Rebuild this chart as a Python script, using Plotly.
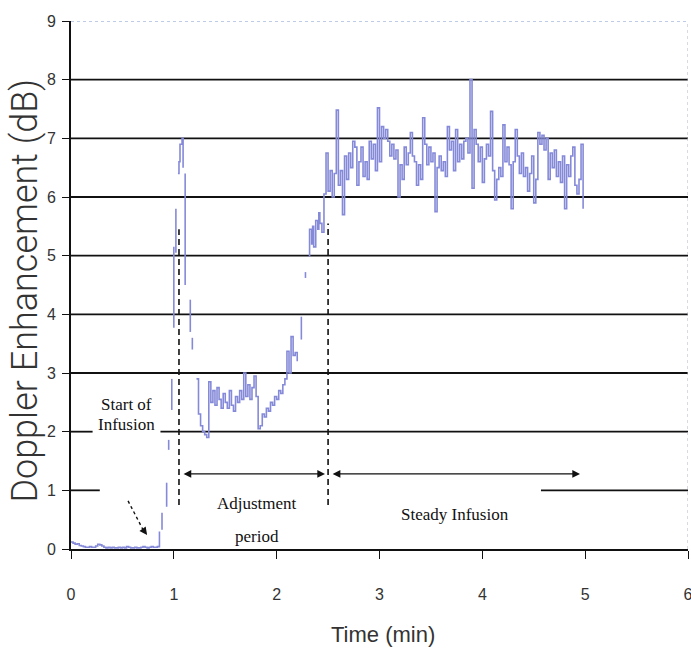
import numpy as np
import plotly.graph_objects as go

# ---------------- data ----------------
DT = 0.02  # sampling step of the trace (min)

baseline_start = 0.00
baseline_db = [0.12, 0.10, 0.08, 0.09, 0.06, 0.05, 0.04, 0.03, 0.03, 0.04,
               0.03, 0.03, 0.05, 0.08, 0.07, 0.05, 0.03, 0.02, 0.03, 0.02,
               0.03, 0.02, 0.02, 0.03, 0.02, 0.03, 0.02, 0.04, 0.03, 0.02,
               0.02, 0.03, 0.02, 0.02, 0.03, 0.04, 0.03, 0.02, 0.03, 0.04,
               0.03, 0.03, 0.04]

# start of infusion: fast wash-in, drawn as separate short pieces
rise1_t = [0.86, 0.86, None, 0.885, 0.885, None, 0.93, 0.93, None, 0.95, 0.95, None,
           0.98, 0.98, None, 1.00, 1.00, None, 1.02, 1.02, None,
           1.04, 1.05, 1.06, 1.08, 1.09, None, 1.11, 1.11, None, 1.16, 1.16, None, 1.18, 1.18]
rise1_db = [0.04, 0.30, None, 0.33, 0.62, None, 0.72, 1.13, None, 1.69, 1.86, None,
            2.37, 2.90, None, 3.77, 5.15, None, 5.05, 5.80, None,
            6.40, 6.60, 6.90, 7.00, 6.50, None, 6.40, 4.50, None, 4.25, 3.70, None, 3.60, 3.40]

adjust_start = 1.22
adjust_db = [2.90, 2.30, 2.10, 2.00, 1.95, 1.90, 2.85, 2.50, 2.70, 2.45,
             2.75, 2.55, 2.40, 2.65, 2.50, 2.40, 2.70, 2.45, 2.35, 2.60,
             2.50, 2.70, 2.55, 3.00, 2.60, 2.80, 2.55, 2.75, 2.95, 2.60,
             2.05, 2.10, 2.30, 2.25, 2.40, 2.35, 2.50, 2.45, 2.60, 2.55,
             2.70, 2.65, 2.80, 2.90, 3.37, 3.00, 3.62, 3.30, 3.35, 3.20]

rise2_t = [2.24, 2.24, None, 2.28, 2.28, None,
           2.32, 2.32, 2.34, 2.35, 2.36, 2.38, 2.40, 2.41, 2.42, 2.44]
rise2_db = [3.57, 3.96, None, 4.62, 4.72, None,
            4.98, 5.45, 5.20, 5.50, 5.15, 5.60, 5.45, 5.73, 5.55, 5.40]

steady_start = 2.46
steady_db = [6.05, 6.75, 6.10, 6.45, 6.00, 6.40, 7.48, 6.20, 6.45, 5.70,
             6.70, 6.30, 6.75, 6.50, 6.95, 6.85, 6.20, 6.60, 6.85, 6.35,
             6.60, 6.30, 6.95, 6.65, 6.90, 6.45, 7.52, 6.60, 7.20, 7.00,
             7.15, 6.95, 6.70, 6.90, 6.65, 6.80, 6.00, 6.55, 6.30, 6.85,
             6.55, 6.75, 7.10, 6.70, 6.60, 6.20, 6.55, 6.30, 7.35, 6.90,
             6.55, 6.85, 6.60, 6.75, 5.75, 6.50, 6.70, 6.45, 6.60, 6.35,
             7.20, 6.80, 6.95, 6.45, 7.15, 6.60, 6.90, 6.65, 6.95, 7.00,
             6.75, 8.00, 6.15, 7.15, 6.90, 6.60, 6.85, 6.25, 6.65, 6.90,
             6.70, 7.46, 6.45, 5.95, 6.30, 6.50, 6.35, 7.23, 6.60, 6.85,
             6.55, 5.80, 6.60, 7.15, 6.70, 6.40, 6.75, 6.35, 6.50, 6.10,
             6.40, 6.70, 5.90, 6.30, 7.10, 6.90, 7.05, 6.80, 7.00, 6.30,
             6.75, 6.50, 6.80, 6.35, 6.60, 6.25, 6.70, 5.80, 6.55, 6.35,
             6.70, 6.85, 6.20, 6.05, 6.30, 6.90, 5.80]

x_ticks = [0, 1, 2, 3, 4, 5, 6]
y_ticks = [0, 1, 2, 3, 4, 5, 6, 7, 8, 9]
grid_levels = [1, 2, 3, 4, 5, 6, 7, 8]

phase_marks = [1.05, 2.50]          # dashed lines: start / end of adjustment
adjust_arrow = (1.08, 2.47)
steady_arrow = (2.53, 4.95)
arrow_level = 1.28


def sampled(start, values):
    return list(np.round(start + DT * np.arange(len(values)), 3))


time_min = (sampled(baseline_start, baseline_db) + rise1_t + [None]
            + sampled(adjust_start, adjust_db) + [None]
            + rise2_t + sampled(steady_start, steady_db))
enh_db = baseline_db + rise1_db + [None] + adjust_db + [None] + rise2_db + steady_db

# ---------------- figure ----------------
fig = go.Figure()
fig.add_trace(go.Scatter(
    x=time_min, y=enh_db, mode="lines", line=dict(color="#858ad8", width=1.6, shape="hv"),
    connectgaps=False, showlegend=False, hoverinfo="skip"))

shapes = []
gaps = {1: (0.28, 4.57), 2: (0.21, 0.87)}
for lv in grid_levels:
    pieces = [(0, 6)] if lv not in gaps else [(0, gaps[lv][0]), (gaps[lv][1], 6)]
    for a, b in pieces:
        shapes.append(dict(type="line", xref="x", yref="y", x0=a, x1=b, y0=lv, y1=lv,
                           line=dict(color="#111111", width=1.8), layer="between"))
# top (dotted) and right borders
shapes.append(dict(type="line", xref="x", yref="y", x0=0, x1=6, y0=9, y1=9,
                   line=dict(color="#7f9ad0", width=1.2, dash="dot"), layer="between"))
shapes.append(dict(type="line", xref="x", yref="y", x0=6, x1=6, y0=0, y1=9,
                   line=dict(color="#b0b4c0", width=1, dash="dot"), layer="between"))
for xm, top in zip(phase_marks, [5.45, 5.55]):
    shapes.append(dict(type="line", xref="x", yref="y", x0=xm, x1=xm, y0=0.75, y1=top,
                       line=dict(color="#111111", width=1.6, dash="6px,4px"), layer="above"))
# dashed pointer from "Start of Infusion"
shapes.append(dict(type="line", xref="x", yref="y", x0=0.555, y0=0.82, x1=0.70, y1=0.33,
                   line=dict(color="#111111", width=1.4, dash="3px,3px"), layer="above"))
fig.update_layout(shapes=shapes)

txt_font = dict(family="Liberation Serif", size=17, color="#111111")
annotations = [
    dict(x=0.54, y=2.46, text="Start of", showarrow=False, font=txt_font),
    dict(x=0.54, y=2.12, text="Infusion", showarrow=False, font=txt_font),
    dict(x=1.81, y=0.77, text="Adjustment", showarrow=False, font=txt_font),
    dict(x=1.81, y=0.21, text="period", showarrow=False, font=txt_font),
    dict(x=3.73, y=0.58, text="Steady Infusion", showarrow=False, font=txt_font),
    dict(x=adjust_arrow[1], y=arrow_level, ax=adjust_arrow[0], ay=arrow_level,
         axref="x", ayref="y", text="", showarrow=True, arrowside="end+start",
         arrowhead=2, startarrowhead=2, arrowsize=1.1, startarrowsize=1.1,
         arrowwidth=1.4, arrowcolor="#111111", standoff=0, startstandoff=0),
    dict(x=steady_arrow[1], y=arrow_level, ax=steady_arrow[0], ay=arrow_level,
         axref="x", ayref="y", text="", showarrow=True, arrowside="end+start",
         arrowhead=2, startarrowhead=2, arrowsize=1.1, startarrowsize=1.1,
         arrowwidth=1.4, arrowcolor="#111111", standoff=0, startstandoff=0),
    dict(x=0.74, y=0.24, ax=0.69, ay=0.36, axref="x", ayref="y", text="", showarrow=True,
         arrowhead=2, arrowsize=1.1, arrowwidth=1.4, arrowcolor="#111111", standoff=0),
    dict(xref="paper", yref="paper", x=-0.074, y=0.49, text="Doppler Enhancement (dB)",
         textangle=-90, showarrow=False, xanchor="center", yanchor="middle",
         font=dict(family="Roboto", weight=300, size=36, color="#333333")),
    dict(xref="paper", yref="paper", x=0.506, y=-0.162, text="Time (min)",
         showarrow=False, xanchor="center", yanchor="middle",
         font=dict(family="Liberation Sans", size=22, color="#333333")),
]
fig.update_layout(annotations=annotations)

fig.update_xaxes(range=[0, 6], tickvals=x_ticks, ticktext=[str(v) for v in x_ticks],
                 showgrid=False, zeroline=False, showline=True, linecolor="#111111",
                 linewidth=1.6, ticks="outside", ticklen=8, tickwidth=1.4,
                 tickcolor="#111111", ticklabelstandoff=22, ticklabeloverflow="allow",
                 automargin=False,
                 tickfont=dict(family="Liberation Sans", size=16, color="#333333"))
fig.update_yaxes(range=[0, 9], tickvals=y_ticks, ticktext=[str(v) for v in y_ticks],
                 showgrid=False, zeroline=False, showline=True, linecolor="#111111",
                 linewidth=1.6, ticks="outside", ticklen=7, tickwidth=1.4,
                 tickcolor="#111111", ticklabelstandoff=3, automargin=False,
                 tickfont=dict(family="Liberation Sans", size=16, color="#333333"))

fig.update_layout(width=691, height=658, margin=dict(l=71, r=3, t=21, b=109),
                  paper_bgcolor="white", plot_bgcolor="white")

fig.write_html("out.html")
